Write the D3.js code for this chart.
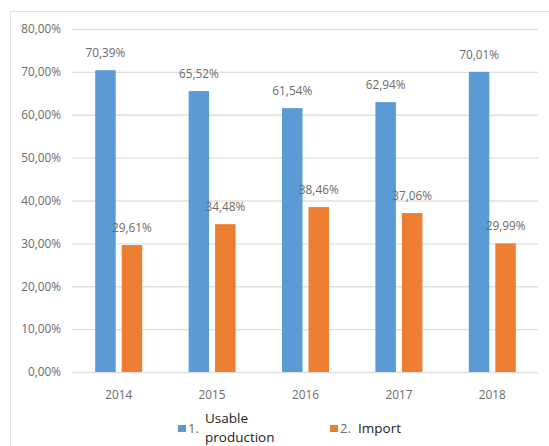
<!DOCTYPE html>
<html>
<head>
<meta charset="utf-8">
<script src="https://cdn.jsdelivr.net/npm/d3@7"></script>
<style>
  html, body { margin: 0; padding: 0; background: #fff; }
  svg { display: block; }
</style>
</head>
<body>
<svg id="chart" width="549" height="446"></svg>
<script>
const years = ["2014", "2015", "2016", "2017", "2018"];
const usableProduction = [70.39, 65.52, 61.54, 62.94, 70.01];
const importShare = [29.61, 34.48, 38.46, 37.06, 29.99];
const yTicks = [0, 10, 20, 30, 40, 50, 60, 70, 80];

const fmt = v => v.toFixed(2).replace(".", ",") + "%";

const svg = d3.select("#chart");
const W = 549, H = 446;
const margin = { left: 72, right: 10, top: 29, bottom: 74 };

// chart frame
svg.append("rect")
  .attr("x", 10.5).attr("y", 11.5)
  .attr("width", W).attr("height", H)
  .attr("fill", "#fff").attr("stroke", "#e4e4e4");

const x = d3.scaleBand().domain(years).range([margin.left, W - margin.right]);
const y = d3.scaleLinear().domain([0, 80]).range([H - margin.bottom, margin.top]);

const font = "'Open Sans', 'Liberation Sans', sans-serif";
const labelSize = 11.8, labelColor = "#6b6b6b";

// gridlines
svg.append("g").selectAll("line").data(yTicks).join("line")
  .attr("x1", margin.left).attr("x2", W - margin.right - 1)
  .attr("y1", d => y(d) + 0.5).attr("y2", d => y(d) + 0.5)
  .attr("stroke", "#e0e0e0").attr("stroke-width", 1.3);

// y axis labels
const yAxis = d3.axisLeft(y).tickValues(yTicks).tickSize(0).tickPadding(11)
  .tickFormat(fmt);
svg.append("g").attr("transform", `translate(${margin.left},0)`).call(yAxis)
  .call(g => g.select(".domain").remove())
  .call(g => g.selectAll("text").attr("font-family", font).attr("font-size", labelSize).attr("fill", labelColor));

// x axis labels
const xAxis = d3.axisBottom(x).tickSize(0).tickPadding(19);
svg.append("g").attr("transform", `translate(0,${y(0)})`).call(xAxis)
  .call(g => g.select(".domain").remove())
  .call(g => g.selectAll("text").attr("font-family", font).attr("font-size", labelSize).attr("fill", labelColor));

const barW = 20.5, gap = 6;
const series = [
  { values: usableProduction, color: "#5b9bd5", off: -(barW + gap / 2) },
  { values: importShare, color: "#ed7d31", off: gap / 2 }
];

series.forEach(s => {
  const g = svg.append("g");
  g.selectAll("rect").data(years).join("rect")
    .attr("x", d => x(d) + x.bandwidth() / 2 + s.off)
    .attr("y", (d, i) => y(s.values[i]))
    .attr("width", barW)
    .attr("height", (d, i) => y(0) - y(s.values[i]))
    .attr("fill", s.color);
  g.selectAll("text").data(years).join("text")
    .attr("x", d => x(d) + x.bandwidth() / 2 + s.off + barW / 2)
    .attr("y", (d, i) => y(s.values[i]) - 13)
    .attr("text-anchor", "middle")
    .attr("font-family", font).attr("font-size", labelSize).attr("fill", labelColor)
    .text((d, i) => fmt(s.values[i]));
});

// legend
const leg = svg.append("g").attr("font-family", font);
leg.append("rect").attr("x", 178).attr("y", 425).attr("width", 8).attr("height", 7).attr("fill", "#5b9bd5");
leg.append("text").attr("x", 188).attr("y", 433).attr("font-size", 13).attr("fill", labelColor).text("1.");
leg.append("text").attr("x", 205).attr("y", 423).attr("font-size", 13.5).attr("fill", "#222").text("Usable");
leg.append("text").attr("x", 205).attr("y", 442).attr("font-size", 13.5).attr("fill", "#222").text("production");
leg.append("rect").attr("x", 330).attr("y", 425).attr("width", 8).attr("height", 7).attr("fill", "#ed7d31");
leg.append("text").attr("x", 340).attr("y", 433).attr("font-size", 13).attr("fill", labelColor).text("2.");
leg.append("text").attr("x", 358).attr("y", 433).attr("font-size", 13.5).attr("fill", "#222").text("Import");
</script>
</body>
</html>
